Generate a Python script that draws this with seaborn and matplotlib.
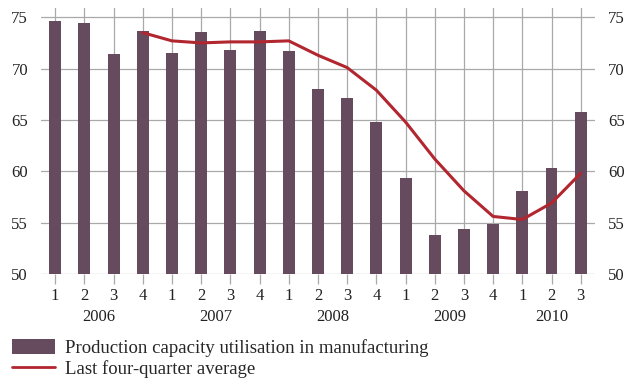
import numpy as np
import pandas as pd
import seaborn as sns
from matplotlib import pyplot as plt
from matplotlib.patches import Patch
from matplotlib.lines import Line2D

years = ["2006", "2007", "2008", "2009", "2010"]
quarters = ["1", "2", "3", "4"] * 4 + ["1", "2", "3"]
utilisation = [74.6, 74.4, 71.4, 73.7,
               71.5, 73.6, 71.8, 73.7,
               71.7, 68.0, 67.1, 64.8,
               59.3, 53.8, 54.4, 54.9,
               58.1, 60.3, 65.8]
# four-quarter average, starts at 2006 Q4
avg_start = 3
four_q_avg = [73.5, 72.7, 72.5, 72.6, 72.6, 72.7, 71.3, 70.1, 67.9,
              64.8, 61.2, 58.1, 55.6, 55.3, 56.9, 59.8]

bar_col = "#664a5d"
line_col = "#b22630"
grid_col = "#a9a9a9"

sns.set_style("white")
plt.rcParams['font.family'] = ['Liberation Serif', 'DejaVu Serif']

bars = pd.DataFrame({"pos": np.arange(len(utilisation)), "val": utilisation})
avg = pd.DataFrame({"pos": np.arange(avg_start, avg_start + len(four_q_avg)), "val": four_q_avg})

fig = plt.figure(figsize=(6.24, 3.81), dpi=100)
ax = fig.add_axes([0.065, 0.281, 0.889, 0.698])

sns.barplot(data=bars, x="pos", y="val", native_scale=True, color=bar_col,
            saturation=1, width=0.41, linewidth=0, ax=ax, zorder=2)
sns.lineplot(data=avg, x="pos", y="val", color=line_col, lw=2.2, ax=ax, zorder=3)

ax.set_xlim(-0.5, len(utilisation) - 0.5)
ax.set_ylim(50, 75.9)
ax.set_yticks(range(50, 76, 5))
ax.set_xticks(bars["pos"])
ax.set_xticklabels(quarters)
ax.set_xlabel("")
ax.set_ylabel("")
ax.grid(True, color=grid_col, lw=0.9, zorder=0)
ax.set_axisbelow(True)
for s in ax.spines.values():
    s.set_visible(False)
ax.tick_params(axis="both", which="both", labelsize=12, color=grid_col,
               width=0.9, labelcolor="#222222")
ax.tick_params(axis="y", right=False, labelright=True, left=False, length=0, pad=9)
ax.tick_params(axis="x", bottom=True, length=7, pad=3)

for i, y in enumerate(years):
    first = i * 4
    last = min(first + 3, len(utilisation) - 1)
    ax.text((first + last) / 2, -0.162, y, transform=ax.get_xaxis_transform(),
            ha="center", va="center", fontsize=12, color="#222222")

handles = [Patch(facecolor=bar_col, edgecolor="none"),
           Line2D([0], [0], color=line_col, lw=2)]
labels = ["Production capacity utilisation in manufacturing", "Last four-quarter average"]
fig.legend(handles, labels, loc="upper left", bbox_to_anchor=(0.019, 0.11),
           frameon=False, fontsize=13.5, handlelength=2.3, handleheight=0.8,
           handletextpad=0.55, labelspacing=0.15, borderaxespad=0, borderpad=0)

fig.savefig("out.png", dpi=100)
